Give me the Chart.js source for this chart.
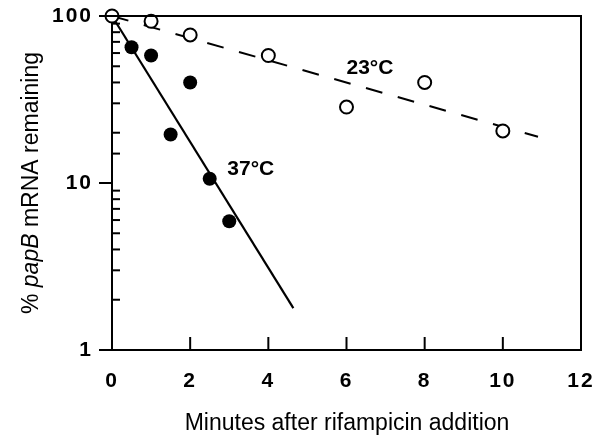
<!DOCTYPE html>
<html>
<head>
<meta charset="utf-8">
<script src="https://cdn.jsdelivr.net/npm/chart.js@4/dist/chart.umd.min.js"></script>
<style>
  html, body { margin: 0; padding: 0; background: #fff; }
  canvas { display: block; }
</style>
</head>
<body>
<canvas id="c" width="600" height="439"></canvas>
<script>
// ---- data ----
const xTickValues = [0, 2, 4, 6, 8, 10, 12];
const yTickLabels = [1, 10, 100];

const minutes23 = [0, 1, 2, 4, 6, 8, 10];
const pct23     = [100, 93, 77, 58, 28.5, 40, 20.5];

const minutes37 = [0.5, 1, 1.5, 2, 2.5, 3];
const pct37     = [65, 58, 19.5, 40, 10.6, 5.9];

const fit23X = [0, 10.9];
const fit23Y = [100, 18.9];
const fit37X = [0, 4.64];
const fit37Y = [100, 1.78];

const seriesLabels = ['23°C', '37°C'];
const labelPosX = [6.6, 3.55];
const labelPosY = [48.8, 12.05];

const xTitle = 'Minutes after rifampicin addition';

const FONT = "'Liberation Sans', Arial, Helvetica, sans-serif";
const toXY = (xs, ys) => xs.map((x, i) => ({ x: x, y: ys[i] }));

const zeroPad = s => { s.paddingTop = 0; s.paddingBottom = 0; s.paddingLeft = 0; s.paddingRight = 0; };

const decorPlugin = {
  id: 'decor',
  beforeDraw(chart) { chart.ctx.letterSpacing = '2px'; },
  beforeDatasetsDraw(chart) { chart.ctx.letterSpacing = '0px'; },
  afterDraw(chart) {
    const ctx = chart.ctx;
    const xs = chart.scales.x, ys = chart.scales.y;
    const a = chart.chartArea;
    ctx.save();
    ctx.letterSpacing = '0px';
    ctx.strokeStyle = '#000';
    ctx.lineWidth = 2;
    ctx.lineCap = 'butt';
    // top and right frame
    ctx.beginPath();
    ctx.moveTo(a.left - 1, a.top);
    ctx.lineTo(a.right, a.top);
    ctx.lineTo(a.right, a.bottom);
    ctx.stroke();
    // y ticks
    ys.ticks.forEach(t => {
      const py = ys.getPixelForValue(t.value);
      ctx.beginPath();
      if (yTickLabels.includes(t.value)) {
        ctx.moveTo(a.left - 13, py); ctx.lineTo(a.left, py);
      } else {
        ctx.moveTo(a.left, py); ctx.lineTo(a.left + 8, py);
      }
      ctx.stroke();
    });
    // x ticks (inward)
    xTickValues.forEach(v => {
      const px = xs.getPixelForValue(v);
      ctx.beginPath();
      ctx.moveTo(px, a.bottom); ctx.lineTo(px, a.bottom - 13);
      ctx.stroke();
    });
    // series labels
    ctx.fillStyle = '#000';
    ctx.font = 'bold 21px ' + FONT;
    ctx.textAlign = 'center';
    ctx.textBaseline = 'middle';
    seriesLabels.forEach((s, i) => {
      ctx.fillText(s, xs.getPixelForValue(labelPosX[i]), ys.getPixelForValue(labelPosY[i]));
    });
    // x title
    ctx.font = '23px ' + FONT;
    ctx.textBaseline = 'alphabetic';
    ctx.fillText(xTitle, 347, 430);
    // y title with italic gene name
    const parts = [
      { t: '% ', f: '23px ' + FONT },
      { t: 'papB', f: 'italic 23px ' + FONT },
      { t: ' mRNA remaining', f: '23px ' + FONT }
    ];
    let total = 0;
    parts.forEach(p => { ctx.font = p.f; p.w = ctx.measureText(p.t).width; total += p.w; });
    ctx.translate(38, (a.top + a.bottom) / 2);
    ctx.rotate(-Math.PI / 2);
    ctx.textAlign = 'left';
    let cx = -total / 2;
    parts.forEach(p => { ctx.font = p.f; ctx.fillText(p.t, cx, 0); cx += p.w; });
    ctx.restore();
  }
};

new Chart(document.getElementById('c'), {
  type: 'scatter',
  data: {
    datasets: [
      {
        label: '37°C data',
        data: toXY(minutes37, pct37),
        pointRadius: 7,
        pointBackgroundColor: '#000',
        pointBorderColor: '#000',
        pointBorderWidth: 0,
        showLine: false,
        clip: false
      },
      {
        label: '23°C data',
        data: toXY(minutes23, pct23),
        pointRadius: 6.5,
        pointBackgroundColor: '#fff',
        pointBorderColor: '#000',
        pointBorderWidth: 2,
        showLine: false,
        clip: false
      },
      {
        label: '23°C fit',
        data: toXY(fit23X, fit23Y),
        showLine: true,
        borderColor: '#000',
        borderWidth: 2,
        borderDash: [17, 16],
        pointRadius: 0,
        clip: false
      },
      {
        label: '37°C fit',
        data: toXY(fit37X, fit37Y),
        showLine: true,
        borderColor: '#000',
        borderWidth: 2.2,
        pointRadius: 0,
        clip: false
      }
    ]
  },
  options: {
    responsive: false,
    animation: false,
    events: [],
    layout: { padding: { top: 16, right: 19, left: 0, bottom: 0 } },
    plugins: { legend: { display: false }, tooltip: { enabled: false } },
    scales: {
      x: {
        type: 'linear',
        min: 0, max: 12,
        afterFit: s => { s.height = 89; zeroPad(s); },
        afterBuildTicks: s => { s.ticks = xTickValues.map(v => ({ value: v })); },
        grid: { display: true, drawOnChartArea: false, drawTicks: false },
        border: { display: true, color: '#000', width: 2 },
        ticks: {
          color: '#000',
          font: { family: FONT, size: 21, weight: 'bold' },
          padding: 19,
          maxRotation: 0,
          autoSkip: false
        }
      },
      y: {
        type: 'logarithmic',
        min: 1, max: 100,
        afterFit: s => { s.width = 112; zeroPad(s); },
        grid: { display: true, drawOnChartArea: false, drawTicks: false },
        border: { display: true, color: '#000', width: 2 },
        ticks: {
          color: '#000',
          font: { family: FONT, size: 21, weight: 'bold' },
          padding: 19,
          autoSkip: false,
          callback: v => yTickLabels.includes(v) ? String(v) : ''
        }
      }
    }
  },
  plugins: [decorPlugin]
});
</script>
</body>
</html>
